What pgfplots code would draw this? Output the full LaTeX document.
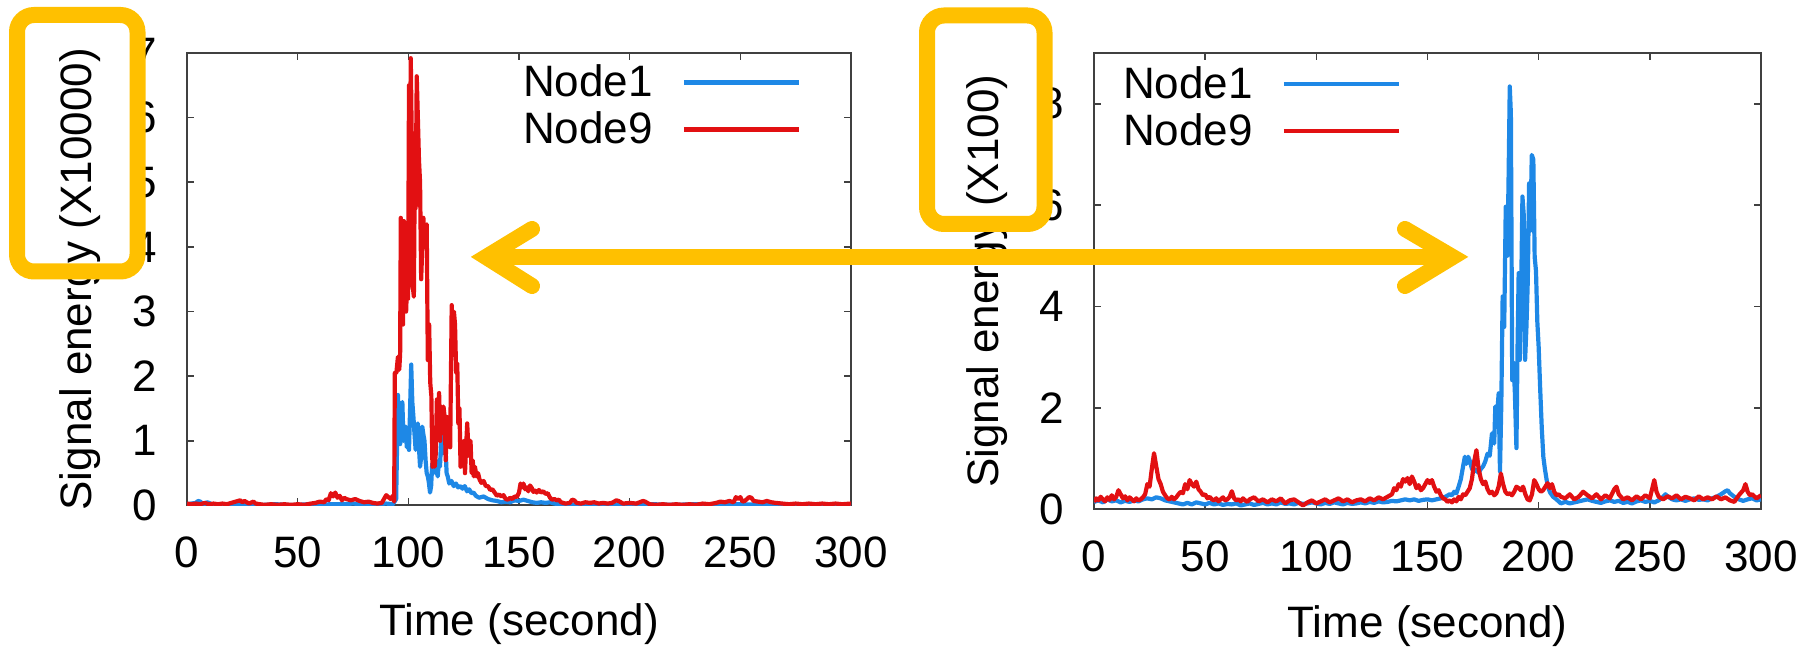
\documentclass[border=0pt]{standalone}
\usepackage{fontspec}
\setmainfont{Liberation Sans}
\usepackage{pgfplots}
\pgfplotsset{compat=1.18}

\definecolor{nodeone}{RGB}{30,136,230}
\definecolor{nodenine}{RGB}{226,16,18}
\definecolor{callout}{RGB}{255,192,0}
\definecolor{frame}{RGB}{64,64,64}

\pgfplotsset{
  energy/.style={
    scale only axis,
    xmin=0, xmax=300, ymin=0,
    xtick={0,50,...,300},
    tick align=inside,
    major tick length=3.5pt,
    /pgf/number format/assume math mode=true,
    axis line style={draw=frame, line width=1pt},
    every tick/.style={draw=frame, line width=0.8pt},
    xticklabel style={anchor=center, inner sep=0pt, yshift=-23.5pt},
    yticklabel style={anchor=east, inner sep=0pt, xshift=-15pt},
    xlabel={Time (second)},
    legend plot pos=right,
    legend cell align=right,
    legend image code/.code={\draw[##1] (0pt,0pt) -- (57.5pt,0pt);},
    legend style={draw=none, fill=none, inner sep=0pt, outer sep=0pt,
      row sep=6pt, column sep=14.5pt, nodes={inner sep=0pt}},
    every axis plot/.append style={line width=2.1pt, line join=round},
  },
}

\begin{document}
\begin{tikzpicture}[font=\fontsize{22}{26.4}\selectfont]
\path[use as bounding box] (0pt,0pt) rectangle (906pt,324pt);

% left panel: signal energy in units of 10^4
\begin{axis}[energy,
  at={(93.5pt,71.25pt)}, anchor=south west,
  width=332pt, height=226.25pt,
  ymax=7, ytick={0,1,...,7},
  ylabel={Signal energy (X10000)},
  ylabel style={at={(axis description cs:-0.1611,0.5)}, anchor=center},
  xlabel style={at={(axis description cs:0.5,-0.2619)}, anchor=center},
  legend style={at={(axis description cs:0.9247,0.9733)}, anchor=north east},
]
\addplot[nodeone] coordinates {
(0,0.02) (2,0.03) (4,0.04) (5,0.07) (6,0.06) (7,0.03) (8,0.02) (9,0.05) (10,0.04) (11,0.02)
(13,0.01) (16,0.02) (20,0.01) (25,0.02) (30,0.01) (35,0.01) (40,0.02) (45,0.01) (50,0.01)
(55,0.02) (60,0.01) (65,0.02) (70,0.02) (75,0.03) (80,0.02) (85,0.02) (90,0.03) (93,0.02)
(94.5,0.1) (95.3,1.71) (95.8,1.27) (96.3,0.95) (96.8,1.55) (97.3,1.6) (97.8,1.0) (98.3,1.15)
(98.8,1.22) (99.3,0.9) (99.8,1.2) (100.3,0.86) (100.8,1.5) (101.3,2.18) (101.8,1.6) (102.3,1.37)
(102.8,1.1) (103.3,0.86) (103.8,1.2) (104.3,1.27) (104.8,0.9) (105.3,0.6) (105.8,0.75)
(106.3,1.22) (106.8,1.1) (107.3,1.0) (107.8,0.7) (108.3,0.5) (108.8,0.45) (109.3,0.35)
(109.8,0.2) (110.3,0.3) (110.8,0.65) (111.3,0.55) (111.8,0.65) (112.3,0.5) (112.8,0.55)
(113.3,0.45) (113.8,0.7) (114.3,0.6) (114.8,1.0) (115.3,0.8) (115.8,1.0) (116.3,1.15)
(116.8,0.9) (117.3,0.5) (117.8,0.45) (118.5,0.34) (119.5,0.38) (120.5,0.3) (121.5,0.34)
(122.5,0.28) (123.5,0.3) (124.5,0.26) (125.5,0.3) (126.5,0.22) (127.5,0.25) (128.5,0.19)
(129.5,0.2) (130.5,0.15) (132,0.12) (134,0.14) (136,0.1) (138,0.08) (140,0.07) (142,0.05)
(144,0.06) (146,0.05) (148,0.08) (150,0.07) (152,0.09) (154,0.07) (156,0.05) (158,0.04)
(160,0.05) (162,0.04) (164,0.05) (166,0.03) (168,0.02) (170,0.02) (175,0.01) (180,0.02)
(185,0.01) (190,0.02) (195,0.01) (200,0.01) (210,0.02) (220,0.01) (230,0.02) (240,0.01)
(250,0.02) (260,0.01) (270,0.02) (280,0.01) (290,0.02) (300,0.01)
};
\addlegendentry{Node1}
\addplot[nodenine] coordinates {
(0,0.03) (2,0.02) (4,0.03) (6,0.02) (8,0.04) (10,0.02) (12,0.03) (14,0.02) (16,0.03) (18,0.02)
(20,0.04) (22,0.06) (24,0.08) (25,0.05) (26,0.07) (28,0.03) (30,0.06) (31,0.03) (33,0.02)
(35,0.01) (38,0.02) (41,0.01) (44,0.02) (47,0.01) (50,0.02) (53,0.01) (56,0.03) (58,0.04)
(60,0.06) (62,0.05) (63,0.1) (64,0.08) (65,0.19) (66,0.14) (67,0.2) (68,0.12) (69,0.15)
(70,0.08) (71,0.12) (72,0.1) (74,0.08) (76,0.1) (78,0.07) (80,0.05) (82,0.06) (84,0.04)
(86,0.03) (88,0.04) (89,0.1) (90,0.16) (91,0.13) (92,0.1) (93,0.15) (93.6,0.06)
(93.9,2.05) (94.6,2.05) (95.3,2.3) (95.9,2.1) (96.3,2.35) (96.6,4.45) (97.1,3.0) (97.6,2.8)
(98.0,4.4) (98.5,3.6) (99.0,3.0) (99.5,3.5) (99.9,3.2) (100.3,6.5) (100.7,5.0) (101.1,6.92)
(101.6,5.5) (102.0,3.39) (102.5,3.23) (102.9,5.1) (103.3,4.6) (103.8,6.64) (104.3,6.0)
(104.8,5.35) (105.3,5.0) (105.8,3.5) (106.3,4.0) (106.8,4.45) (107.3,4.0) (107.8,4.3)
(108.3,4.35) (108.8,2.25) (109.4,2.8) (109.9,1.9) (110.4,1.7) (110.9,0.6) (111.4,0.9)
(111.9,0.6) (112.4,0.8) (112.9,1.64) (113.4,1.2) (113.9,1.74) (114.4,1.0) (114.9,1.53)
(115.4,1.3) (115.9,1.53) (116.4,1.37) (116.9,0.7) (117.4,1.37) (117.9,1.1) (118.4,1.2)
(118.9,0.9) (119.6,3.1) (120.1,2.4) (120.6,3.0) (121.1,2.8) (121.6,2.05) (122.1,2.2)
(122.6,1.27) (123.1,1.5) (123.6,0.6) (124.1,1.0) (124.6,0.8) (125.1,1.0) (125.6,0.5)
(126.1,0.9) (126.6,1.27) (127.1,0.9) (127.6,0.76) (128.1,1.0) (128.6,0.5) (129.1,0.7)
(129.6,0.45) (130.1,0.6) (130.8,0.45) (131.5,0.5) (132.2,0.4) (133,0.35) (134,0.38) (135,0.3)
(136,0.3) (137,0.24) (138,0.25) (139,0.2) (140,0.15) (141,0.17) (142,0.14) (143,0.16)
(144,0.1) (145,0.09) (146,0.12) (147,0.1) (148,0.14) (149,0.13) (150,0.2) (150.7,0.34)
(151.4,0.28) (152,0.34) (152.8,0.25) (153.5,0.28) (154.2,0.22) (155,0.31) (155.8,0.27)
(156.5,0.21) (157.3,0.23) (158,0.2) (159,0.24) (160,0.2) (161,0.22) (162,0.18) (163,0.19)
(164,0.12) (165,0.09) (166,0.1) (167,0.08) (168,0.09) (169,0.05) (171,0.03) (173,0.04)
(174,0.09) (175,0.08) (176,0.04) (178,0.03) (180,0.05) (182,0.04) (184,0.05) (186,0.03)
(188,0.04) (190,0.03) (192,0.04) (194,0.08) (195,0.07) (197,0.03) (200,0.04) (203,0.03)
(206,0.07) (207,0.06) (209,0.02) (212,0.01) (215,0.02) (218,0.01) (221,0.02) (224,0.01)
(227,0.02) (230,0.01) (233,0.03) (236,0.02) (239,0.04) (241,0.06) (243,0.05) (245,0.07)
(247,0.05) (248,0.13) (249,0.1) (250,0.13) (251,0.06) (252,0.07) (253,0.1) (254,0.13)
(255,0.12) (256,0.07) (258,0.06) (260,0.05) (262,0.07) (264,0.05) (266,0.04) (269,0.03)
(272,0.02) (275,0.03) (278,0.02) (281,0.03) (284,0.02) (287,0.03) (290,0.02) (293,0.03)
(296,0.02) (300,0.03)
};
\addlegendentry{Node9}
\end{axis}

% right panel: signal energy in units of 10^2
\begin{axis}[energy,
  at={(547pt,69.25pt)}, anchor=south west,
  width=333.5pt, height=228.25pt,
  ymax=9, ytick={0,2,...,8},
  ylabel={Signal energy (X100)},
  ylabel style={at={(axis description cs:-0.1604,0.5)}, anchor=center},
  xlabel style={at={(axis description cs:0.5,-0.2552)}, anchor=center},
  legend style={at={(axis description cs:0.0435,0.970)}, anchor=north west},
]
\addplot[nodeone] coordinates {
(0,0.15) (2,0.18) (4,0.14) (6,0.2) (8,0.16) (10,0.18) (12,0.14) (14,0.17) (16,0.15) (18,0.18)
(20,0.16) (22,0.2) (24,0.22) (26,0.2) (28,0.24) (30,0.22) (32,0.18) (34,0.16) (36,0.14)
(38,0.12) (40,0.1) (42,0.13) (44,0.1) (46,0.14) (48,0.12) (50,0.1) (52,0.13) (54,0.1)
(56,0.12) (58,0.09) (60,0.11) (62,0.1) (64,0.12) (66,0.08) (68,0.1) (70,0.12) (72,0.09)
(74,0.11) (76,0.13) (78,0.1) (80,0.12) (82,0.1) (84,0.14) (86,0.11) (88,0.12) (90,0.1)
(92,0.13) (94,0.11) (96,0.12) (98,0.14) (100,0.12) (102,0.1) (104,0.13) (106,0.11) (108,0.14)
(110,0.12) (112,0.1) (114,0.13) (116,0.11) (118,0.12) (120,0.14) (122,0.12) (124,0.15)
(126,0.13) (128,0.16) (130,0.14) (132,0.15) (134,0.17) (136,0.16) (138,0.18) (140,0.2)
(142,0.18) (144,0.2) (146,0.17) (148,0.19) (150,0.2) (152,0.18) (154,0.2) (156,0.22)
(158,0.25) (160,0.3) (161,0.28) (162,0.35) (163,0.32) (164,0.45) (165,0.6) (166,0.85)
(166.8,1.04) (167.5,0.9) (168.3,1.04) (169.1,0.95) (170,0.8) (171,0.75) (172,0.78) (173,0.72)
(174,0.8) (175,0.85) (176,0.95) (177,1.1) (178,1.06) (179,1.5) (180,1.3) (180.5,2.03)
(181.2,1.8) (182,2.29) (182.6,0.75) (183.2,2.1) (183.8,4.2) (184.5,3.6) (185.2,5.97)
(185.8,5.0) (186.4,6.3) (187.0,8.34) (187.5,7.8) (188.1,2.55) (188.7,2.9) (189.3,2.3)
(190.0,1.21) (190.5,3.2) (191.0,4.66) (191.5,2.95) (192.1,4.2) (192.7,6.17) (193.3,5.8)
(193.9,2.95) (194.5,3.6) (195.1,4.5) (195.7,6.43) (196.3,5.5) (196.9,6.99) (197.6,6.9)
(198.2,4.98) (198.8,4.7) (199.4,3.7) (200.0,3.2) (200.7,2.36) (201.4,1.6) (202.1,1.04)
(202.8,0.8) (203.6,0.58) (204.4,0.42) (205.2,0.33) (206.5,0.25) (208,0.2) (210,0.12)
(212,0.15) (214,0.12) (216,0.14) (218,0.16) (220,0.18) (222,0.2) (224,0.17) (226,0.15)
(228,0.13) (230,0.16) (232,0.18) (234,0.15) (236,0.17) (238,0.13) (240,0.15) (242,0.12)
(244,0.16) (246,0.18) (248,0.15) (250,0.17) (252,0.14) (254,0.18) (256,0.25) (257,0.3)
(258,0.26) (260,0.2) (262,0.18) (264,0.2) (266,0.17) (268,0.2) (270,0.22) (272,0.19)
(274,0.2) (276,0.18) (278,0.22) (280,0.25) (282,0.3) (284,0.36) (285,0.38) (286,0.32)
(288,0.25) (290,0.2) (292,0.17) (294,0.2) (296,0.22) (298,0.18) (300,0.2)
};
\addlegendentry{Node1}
\addplot[nodenine] coordinates {
(0,0.15) (1,0.22) (2,0.18) (3,0.25) (4,0.2) (5,0.16) (6,0.24) (7,0.19) (8,0.28) (9,0.2)
(10,0.25) (11,0.38) (12,0.3) (13,0.22) (14,0.26) (15,0.18) (16,0.24) (17,0.2) (18,0.16)
(19,0.22) (20,0.18) (21,0.2) (22,0.24) (23,0.3) (24,0.5) (25,0.45) (26,0.8) (27,1.11)
(28,0.85) (29,0.6) (30,0.5) (31,0.35) (32,0.28) (33,0.22) (34,0.2) (35,0.25) (36,0.2)
(37,0.24) (38,0.3) (39,0.35) (40,0.32) (41,0.5) (42,0.4) (43,0.58) (44,0.5) (45,0.45)
(46,0.55) (47,0.4) (48,0.35) (49,0.28) (50,0.3) (51,0.22) (52,0.25) (53,0.2) (54,0.18)
(55,0.22) (56,0.16) (57,0.2) (58,0.24) (59,0.18) (60,0.2) (61,0.25) (62,0.36) (63,0.22)
(64,0.18) (65,0.2) (66,0.16) (67,0.22) (68,0.18) (69,0.15) (70,0.2) (72,0.24) (74,0.16)
(76,0.2) (78,0.14) (80,0.2) (82,0.16) (84,0.22) (86,0.12) (88,0.18) (90,0.2) (92,0.14)
(94,0.08) (96,0.14) (98,0.18) (100,0.12) (102,0.16) (104,0.2) (106,0.14) (108,0.18)
(110,0.22) (112,0.16) (114,0.2) (116,0.14) (118,0.18) (120,0.2) (122,0.16) (124,0.22)
(126,0.18) (128,0.24) (130,0.2) (132,0.25) (134,0.3) (135,0.42) (136,0.38) (137,0.5)
(138,0.45) (139,0.6) (140,0.55) (141,0.62) (142,0.5) (143,0.65) (144,0.55) (145,0.42)
(146,0.48) (147,0.38) (148,0.42) (149,0.5) (150,0.58) (151,0.52) (152,0.58) (153,0.45)
(154,0.35) (155,0.38) (156,0.28) (157,0.22) (158,0.2) (159,0.15) (160,0.18) (161,0.14)
(162,0.2) (163,0.16) (164,0.25) (165,0.2) (166,0.3) (167,0.28) (168,0.35) (169,0.42)
(170,0.6) (171,0.95) (172,1.17) (173,0.8) (174,0.6) (175,0.5) (176,0.55) (177,0.4)
(178,0.32) (179,0.35) (180,0.28) (181,0.32) (182,0.45) (183,0.71) (184,0.5) (185,0.35)
(186,0.3) (187,0.32) (188,0.28) (189,0.35) (190,0.45) (191,0.42) (192,0.38) (193,0.45)
(194,0.3) (195,0.2) (196,0.18) (197,0.3) (198,0.58) (199,0.5) (200,0.4) (201,0.35)
(202,0.38) (203,0.45) (204,0.52) (205,0.42) (206,0.5) (207,0.35) (208,0.28) (209,0.3)
(210,0.25) (212,0.22) (214,0.3) (216,0.2) (218,0.25) (220,0.35) (222,0.28) (224,0.22)
(226,0.3) (228,0.2) (230,0.28) (232,0.22) (234,0.4) (235,0.45) (236,0.3) (238,0.2)
(240,0.24) (242,0.18) (244,0.26) (246,0.2) (248,0.28) (250,0.22) (251,0.4) (252,0.58)
(253,0.35) (254,0.25) (256,0.2) (258,0.26) (260,0.22) (262,0.28) (264,0.2) (266,0.25)
(268,0.22) (270,0.18) (272,0.26) (274,0.2) (276,0.24) (278,0.2) (280,0.26) (282,0.2)
(284,0.24) (286,0.18) (288,0.15) (290,0.28) (292,0.38) (293,0.5) (294,0.35) (295,0.28)
(296,0.3) (298,0.22) (300,0.28)
};
\addlegendentry{Node9}
\end{axis}

% highlight boxes around the two scale factors and the arrow between the panels
\draw[callout, line width=8pt, rounded corners=8.5pt] (8.5pt,188.25pt) rectangle (68.75pt,316.5pt);
\draw[callout, line width=8pt, rounded corners=8.5pt] (463.5pt,212pt) rectangle (522.25pt,316.25pt);
\draw[callout, line width=8pt] (243pt,195.5pt) -- (726.35pt,195.5pt);
\draw[callout, line width=8pt, line cap=round, line join=miter]
  (266pt,209.5pt) -- (243pt,195.5pt) -- (266pt,181pt);
\draw[callout, line width=8pt, line cap=round, line join=miter]
  (702.5pt,209.5pt) -- (726.35pt,195.5pt) -- (702.5pt,181pt);
\end{tikzpicture}
\end{document}
